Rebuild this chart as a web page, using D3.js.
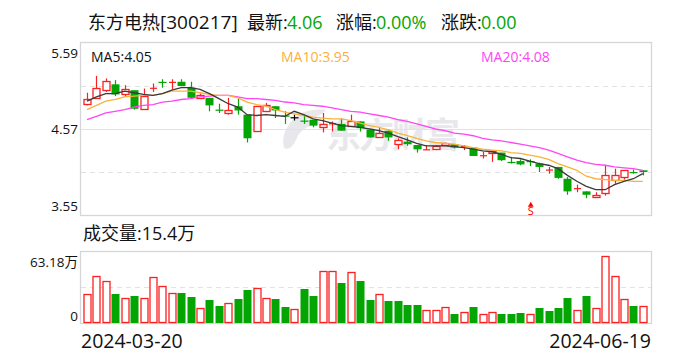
<!DOCTYPE html>
<html><head><meta charset="utf-8">
<script src="https://cdnjs.cloudflare.com/ajax/libs/d3/7.8.5/d3.min.js"></script>
<style>html,body{margin:0;padding:0;background:#fff}svg{display:block}text{font-family:"Open Sans","Noto Sans CJK SC",sans-serif}</style>
</head><body><div id="c"></div>
<script>
const width=688,height=360;
const opens=[4.87,4.94,5.03,5.10,4.98,5.03,4.80,5.06,5.13,5.13,5.13,5.06,4.94,4.94,4.80,4.76,4.84,4.74,4.54,4.78,
4.84,4.73,4.71,4.67,4.68,4.60,4.63,4.63,4.60,4.66,4.56,4.47,4.55,4.39,4.42,4.38,4.32,4.34,4.38,4.39,
4.37,4.35,4.26,4.29,4.29,4.18,4.19,4.19,4.16,4.09,4.12,3.98,3.87,3.83,3.77,3.81,3.97,4.00,4.06,4.08];
const closes=[4.93,5.06,5.14,4.98,5.04,4.81,4.96,5.06,5.13,5.13,5.08,4.94,4.97,4.85,4.80,4.80,4.79,4.46,4.84,4.85,
4.79,4.72,4.71,4.66,4.61,4.63,4.64,4.55,4.66,4.58,4.47,4.52,4.47,4.44,4.39,4.33,4.33,4.37,4.40,4.35,
4.37,4.25,4.26,4.31,4.20,4.18,4.15,4.18,4.12,4.09,3.99,3.83,3.87,3.79,3.79,4.02,4.03,4.08,4.06,4.06];
const highs=[5.00,5.20,5.17,5.15,5.09,5.03,5.05,5.11,5.16,5.16,5.16,5.13,4.99,4.94,4.87,4.94,4.93,4.74,4.84,4.88,
4.84,4.78,4.74,4.74,4.68,4.76,4.66,4.69,4.74,4.66,4.56,4.59,4.56,4.46,4.47,4.38,4.38,4.38,4.41,4.39,
4.38,4.35,4.30,4.32,4.29,4.24,4.21,4.21,4.17,4.12,4.12,4.00,3.91,3.83,3.82,4.14,4.10,4.08,4.09,4.08];
const lows=[4.85,4.94,5.01,4.96,4.95,4.80,4.80,5.01,5.06,5.04,5.08,4.94,4.94,4.78,4.76,4.74,4.74,4.41,4.54,4.77,
4.70,4.63,4.67,4.63,4.59,4.53,4.54,4.55,4.60,4.54,4.47,4.47,4.43,4.33,4.37,4.29,4.32,4.32,4.37,4.34,
4.32,4.25,4.22,4.18,4.19,4.16,4.14,4.13,4.06,4.04,3.98,3.79,3.82,3.75,3.77,3.78,3.92,3.97,4.04,4.02];
const isUp=[1,1,1,0,1,0,1,1,0,1,0,0,1,0,0,1,0,0,1,1,
0,0,2,0,0,1,1,0,1,0,0,1,0,1,0,0,1,1,1,0,
1,0,1,1,0,0,0,0,0,1,0,0,1,0,1,1,1,1,0,0];
const volumeUp=[1,1,1,0,1,0,1,1,1,1,0,0,1,0,0,1,0,0,1,1,
0,0,1,0,0,1,1,0,1,0,0,1,0,0,0,0,1,1,1,0,
1,0,1,1,0,0,0,1,0,0,0,0,1,0,1,1,1,1,0,1];
const volumes=[26.3,42.8,38.2,26.6,22.6,24.7,22.6,41.8,33.6,27.2,27.5,23.8,13.5,21.1,15.6,18.0,22.0,30.2,31.8,22.6,
22.0,14.7,12.5,31.1,24.7,47.3,47.3,36.6,46.4,38.5,21.1,26.3,20.1,20.1,16.5,16.5,11.6,11.6,14.4,8.2,
9.8,14.7,8.0,9.8,8.2,8.2,9.2,8.0,13.7,11.0,13.7,22.9,11.6,24.7,13.5,61.4,42.8,21.7,15.6,15.4];
const ma5=[4.90,4.95,4.99,4.99,5.02,5.00,4.98,4.97,4.99,5.03,5.06,5.06,5.04,4.99,4.93,4.87,4.83,4.74,4.73,4.74,
4.73,4.72,4.78,4.74,4.69,4.67,4.64,4.61,4.60,4.59,4.57,4.55,4.52,4.48,4.44,4.40,4.37,4.37,4.37,4.36,
4.35,4.33,4.31,4.30,4.27,4.23,4.22,4.19,4.16,4.14,4.10,4.02,3.95,3.89,3.85,3.85,3.91,3.95,3.98,4.04];
const ma10=[4.80,4.85,4.90,4.92,4.95,4.96,4.97,4.97,4.99,5.02,5.02,5.02,5.00,4.98,4.97,4.97,4.94,4.89,4.86,4.84,
4.80,4.77,4.75,4.73,4.71,4.70,4.69,4.69,4.67,4.64,4.61,4.59,4.56,4.52,4.49,4.46,4.43,4.41,4.40,4.39,
4.37,4.35,4.33,4.32,4.31,4.29,4.28,4.26,4.24,4.21,4.16,4.12,4.08,4.01,3.98,3.97,3.96,3.96,3.95,3.95];
const ma20=[4.68,4.72,4.76,4.78,4.80,4.83,4.85,4.86,4.89,4.90,4.92,4.93,4.95,4.96,4.97,4.97,4.95,4.93,4.93,4.92,
4.91,4.89,4.88,4.86,4.85,4.84,4.82,4.80,4.78,4.77,4.75,4.73,4.71,4.68,4.66,4.63,4.60,4.57,4.55,4.52,
4.51,4.49,4.46,4.44,4.43,4.41,4.39,4.37,4.35,4.32,4.28,4.24,4.20,4.17,4.15,4.14,4.12,4.11,4.10,4.08];
const priceTicks=[5.59,4.57,3.55];
const volumeTicks=[63.18,0];
const volumeTickLabels=["63.18万","0"];
const dateLabels=["2024-03-20","2024-06-19"];
const signalIndex=47;
const days=d3.range(opens.length);

const RED="#fa2020",GREEN="#03a503",FRAME="#d6d6da",GRID="#e2e2e2";
const L=81,R=651,T=43,B=215,VT=252,VB=323;
const x=d3.scalePoint().domain(days).range([87,642.8]);
const y=d3.scaleLinear().domain([3.55,5.59]).range([B,T]);
const vy=d3.scaleLinear().domain([0,63.18]).range([VB,VB-69]);
const svg=d3.select("#c").append("svg").attr("width",width).attr("height",height);
const col=i=>isUp[i]===1?RED:isUp[i]===2?"#000":GREEN;
const snap=v=>Math.round(v)+.5;

// watermark
const wm=svg.append("g").attr("fill","#e8e8ec");
wm.append("path").attr("d","M288 126 C296 112 312 108 326 110 C322 116 312 117 306 120 C316 120 322 122 322 124 C312 124 300 128 296 140 C292 148 288 150 284 148 C282 140 284 132 288 126Z");
wm.append("text").attr("x",326).attr("y",148).attr("font-size",35).attr("font-weight",700).attr("textLength",134).text("东方财富");

// frames and grid
const frame=(t,b)=>svg.append("rect").attr("x",L-.5).attr("y",t-.5).attr("width",R-L+1).attr("height",b-t+1).attr("fill","none").attr("stroke",FRAME).attr("stroke-width",1.3);
frame(T,B);frame(VT,VB);
const gridY=[y(5.08),y(4.57),y(4.06)];
gridY.forEach((g,i)=>svg.append("line").attr("x1",L).attr("x2",R).attr("y1",snap(g)).attr("y2",snap(g)).attr("stroke",GRID).attr("stroke-dasharray",i===1?null:"5,4"));
svg.append("line").attr("x1",L).attr("x2",R).attr("y1",287.5).attr("y2",287.5).attr("stroke",GRID).attr("stroke-dasharray","5,4");

// axes
const ya=d3.axisLeft(y).tickValues(priceTicks).tickSize(0).tickPadding(3).tickFormat(d3.format(".2f"));
const yg=svg.append("g").attr("transform",`translate(${L},0)`).call(ya);
yg.select(".domain").remove();
yg.selectAll("text").attr("font-size",13.5).attr("fill","#111").attr("dy",null).attr("y",d=>d===5.59?14:d===3.55?-5:4);
const va=d3.axisLeft(vy).tickValues(volumeTicks).tickSize(0).tickPadding(3).tickFormat((d,i)=>volumeTickLabels[i]);
const vg=svg.append("g").attr("transform",`translate(${L},0)`).call(va);
vg.select(".domain").remove();
vg.selectAll("text").attr("font-size",13.5).attr("fill","#111").attr("dy",null).attr("y",d=>d===0?-3:12);

// candles
svg.append("g").selectAll("line").data(days).join("line")
 .attr("x1",i=>snap(x(i))).attr("x2",i=>snap(x(i)))
 .attr("y1",i=>y(highs[i])).attr("y2",i=>y(lows[i])).attr("stroke",col).attr("stroke-width",1.2);
const bh=i=>Math.abs(y(opens[i])-y(closes[i]));
const hollow=i=>isUp[i]===1&&bh(i)>1.5;
svg.append("g").selectAll("rect").data(days).join("rect")
 .attr("x",i=>snap(x(i))-(isUp[i]===1?3.5:4))
 .attr("width",i=>isUp[i]===1?7:8)
 .attr("y",i=>{const v=Math.min(y(opens[i]),y(closes[i]));return hollow(i)?snap(v):v;})
 .attr("height",i=>hollow(i)?Math.round(bh(i)):Math.max(bh(i),1.2))
 .attr("fill",i=>hollow(i)?"#fff":col(i))
 .attr("stroke",i=>hollow(i)?RED:"none").attr("stroke-width",1.3);

// moving averages
const line=d3.line().x((d,i)=>x(i)).y(d=>y(d));
[[ma20,"#ff45f5"],[ma10,"#f9b23c"],[ma5,"#3a3a3a"]].forEach(([s,c])=>
 svg.append("path").attr("d",line(s)).attr("fill","none").attr("stroke",c).attr("stroke-width",1.3));

// signal marker
const sx=x(signalIndex)+1;
svg.append("path").attr("d",d3.symbol(d3.symbolTriangle,14)()).attr("transform",`translate(${sx},205)`).attr("fill","#f00");
svg.append("text").attr("x",sx).attr("y",215).attr("text-anchor","middle").attr("font-size",11).attr("fill","#f00").text("S");

// volumes
svg.append("g").selectAll("rect").data(days).join("rect")
 .attr("x",i=>snap(x(i))-(volumeUp[i]?3.5:4))
 .attr("width",i=>volumeUp[i]?7:8)
 .attr("y",i=>volumeUp[i]?snap(vy(volumes[i])):Math.round(vy(volumes[i])))
 .attr("height",i=>{const top=Math.round(vy(volumes[i]));return volumeUp[i]?VB-top-1:VB-top;})
 .attr("fill",i=>volumeUp[i]?"#fff":GREEN).attr("stroke",i=>volumeUp[i]?RED:"none").attr("stroke-width",1.3);

// text
const t=(s,xx,yy,fs,fill,anchor)=>svg.append("text").attr("x",xx).attr("y",yy).attr("font-size",fs).attr("fill",fill||"#111").attr("text-anchor",anchor||"start").text(s);
t("东方电热",88,29,18);
t("[300217]",160,29,19);
t("最新:",247,29,18);t("4.06",287,29,18,GREEN);
t("涨幅:",336,29,18);t("0.00%",376,29,18,GREEN);
t("涨跌:",441,29,18);t("0.00",481,29,18,GREEN);
t("MA5:4.05",91,62,14);
t("MA10:3.95",281,62,14,"#fbb040");
t("MA20:4.08",481,62,14,"#ff45f5");
t("成交量:15.4万",83,240,18);
t(dateLabels[0],81,348,19.5);
t(dateLabels[1],651,348,19.5,"#111","end");
</script></body></html>
